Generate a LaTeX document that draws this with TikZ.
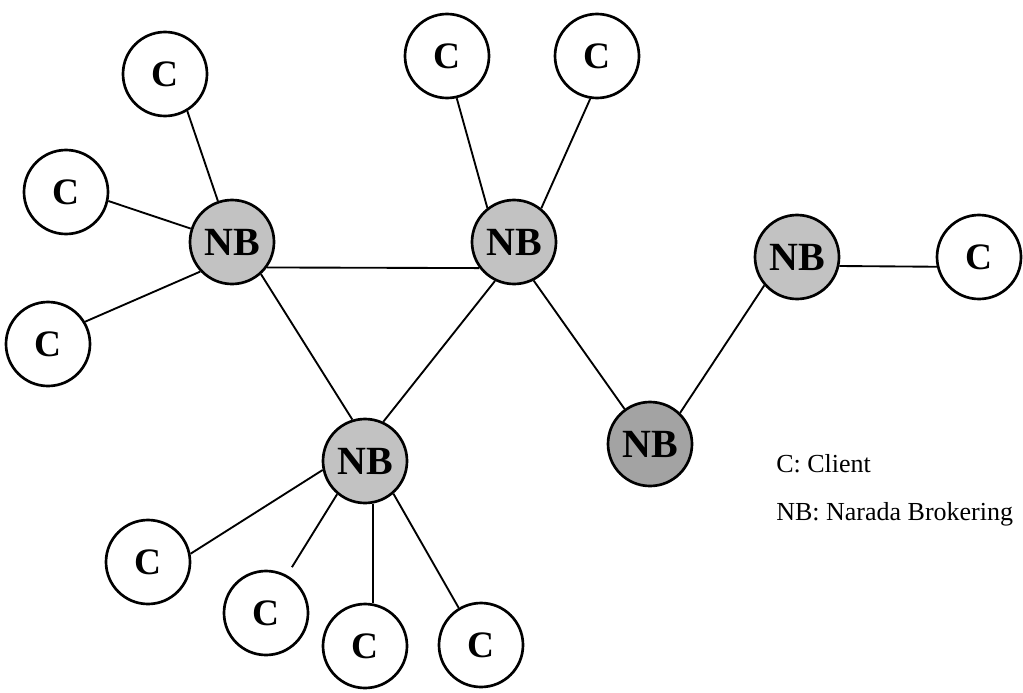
\documentclass[tikz,border=0pt]{standalone}
\usepackage{fontspec}
\setmainfont{Liberation Serif}
\begin{document}
\begin{tikzpicture}[x=0.75pt,y=-0.75pt,
  client/.style={circle,draw=black,line width=2pt,fill=white,minimum size=63pt,inner sep=0pt,
    font=\fontsize{28}{28}\selectfont\bfseries},
  broker/.style={circle,draw=black,line width=2pt,fill=black!24,minimum size=63pt,inner sep=0pt,
    font=\fontsize{30}{30}\selectfont\bfseries},
  link/.style={draw=black,line width=1.4pt},
  legend/.style={anchor=base west,inner sep=0pt,font=\fontsize{19.5}{19.5}\selectfont}]
\useasboundingbox (0,0) rectangle (1023,692);

% brokers
\node[broker] (nb1) at (232,242) {NB};
\node[broker] (nb2) at (514,242) {NB};
\node[broker] (nb3) at (797,257) {NB};
\node[broker,fill=black!36] (nb4) at (650,444) {NB};
\node[broker] (nb5) at (365,461) {NB};

% clients
\node[client] (c1) at (165,74) {C};
\node[client] (c2) at (66,192) {C};
\node[client] (c3) at (48,344) {C};
\node[client] (c4) at (447,56) {C};
\node[client] (c5) at (597,56) {C};
\node[client] (c6) at (979,257) {C};
\node[client] (c7) at (148,562) {C};
\node[client] (c8) at (266,613) {C};
\node[client] (c9) at (365,646) {C};
\node[client] (c10) at (481,645) {C};

% broker-to-broker links
\draw[link] (nb1.-36.5) -- (nb2.-143.5);
\draw[link] (nb1.-48) -- (nb5.107);
\draw[link] (nb2.-116) -- (nb5.65);
\draw[link] (nb2.-63) -- (nb4.126);
\draw[link] (nb3.-139) -- (nb4.46);

% client links
\draw[link] (c1.-59) -- (nb1.109);
\draw[link] (c2.-12) -- (nb1.162);
\draw[link] (c3.31) -- (nb1.-137);
\draw[link] (c4.-77) -- (nb2.128);
\draw[link] (c5.-99) -- (nb2.51);
\draw[link] (nb3.-12.4) -- (c6.-167.6);
\draw[link] (nb5.-168) -- (c7.11);
\draw[link,shorten >=7pt] (nb5.-130) -- (c8.61);
\draw[link] (nb5.-79) -- (c9.79);
\draw[link] (nb5.-49.5) -- (c10.121);

% legend
\node[legend] (l1) at (776,472) {C: Client};
\node[legend] (l2) at (776,520) {NB: Narada Brokering};
\end{tikzpicture}
\end{document}
